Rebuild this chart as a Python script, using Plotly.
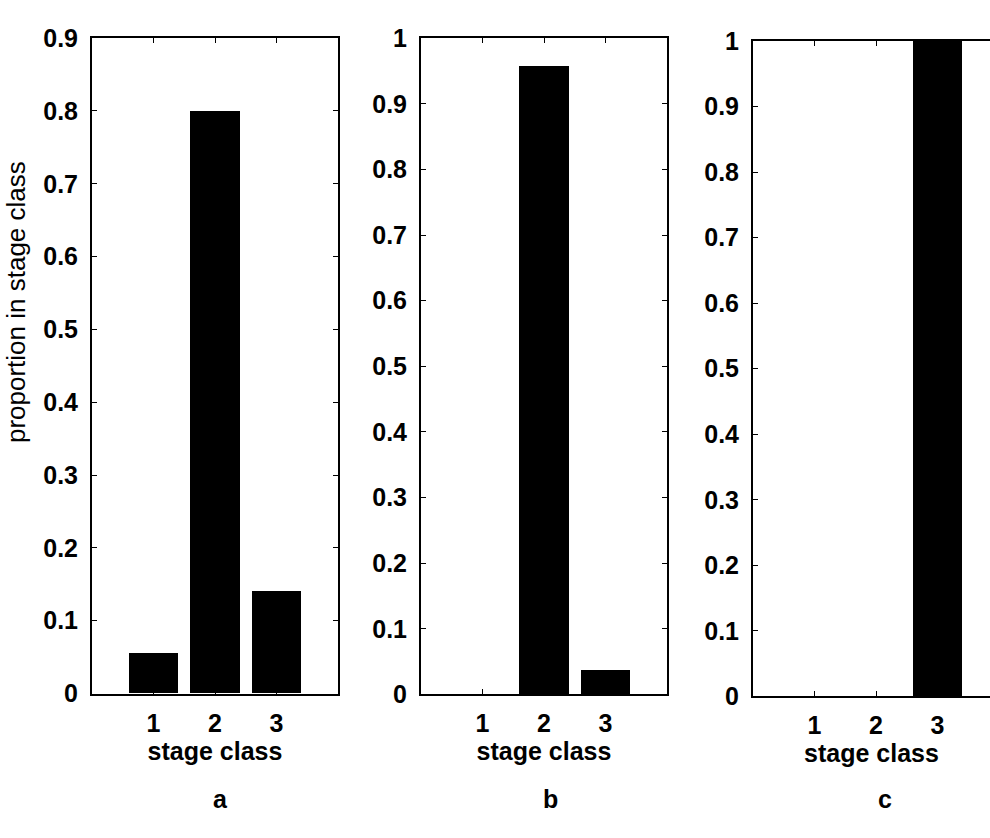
import plotly.graph_objects as go

# Proportion of individuals in each stage class for three cases
stage = [1, 2, 3]
prop_a = [0.055, 0.80, 0.14]
prop_b = [0.0, 0.957, 0.037]
prop_c = [0.0, 0.0, 1.0]
panel_labels = ["a", "b", "c"]

yticks_a = [0, 0.1, 0.2, 0.3, 0.4, 0.5, 0.6, 0.7, 0.8, 0.9]
yticks_bc = [0, 0.1, 0.2, 0.3, 0.4, 0.5, 0.6, 0.7, 0.8, 0.9, 1.0]
ytext_a = ["0", "0.1", "0.2", "0.3", "0.4", "0.5", "0.6", "0.7", "0.8", "0.9"]
ytext_bc = ["0", "0.1", "0.2", "0.3", "0.4", "0.5", "0.6", "0.7", "0.8", "0.9", "1"]

W, H = 990, 838
FONT = "Liberation Sans, Arial, sans-serif"
tick_font = dict(family=FONT, size=25, color="black", weight="bold")

fig = go.Figure()
series = [prop_a, prop_b, prop_c]
for i, vals in enumerate(series):
    sfx = "" if i == 0 else str(i + 1)
    fig.add_trace(go.Bar(
        x=stage, y=vals, width=0.8,
        marker=dict(color="black", line=dict(width=0)),
        xaxis="x" + sfx, yaxis="y" + sfx, showlegend=False,
    ))

# pixel geometry of each panel: (left, right, top, bottom)
boxes = [(92, 338, 25, 703), (421, 667, 25, 704), (753, 999, 28, 706)]
label_x = [220, 550, 885]

layout = dict(
    width=W, height=H, margin=dict(l=0, r=0, t=0, b=0),
    paper_bgcolor="white", plot_bgcolor="white", bargap=0,
)
annotations = []
for i, (l, r, t, b) in enumerate(boxes):
    sfx = "" if i == 0 else str(i + 1)
    visible_r = min(r, W)
    x_hi = 4 * (visible_r - l) / (r - l)
    xdom = [l / W, visible_r / W]
    ydom = [1 - b / H, 1 - t / H]
    last = i == 2
    layout["xaxis" + sfx] = dict(
        domain=xdom, range=[0, x_hi], anchor="y" + sfx,
        tickvals=stage, ticktext=[str(s) for s in stage],
        ticks="inside", ticklen=5, tickcolor="black",
        showline=True, linecolor="black", linewidth=2, mirror="ticks",
        showgrid=False, zeroline=False, tickfont=tick_font,
        ticklabelstandoff=6,
        title=dict(text="stage class", font=tick_font, standoff=6),
    )
    layout["yaxis" + sfx] = dict(
        domain=ydom, range=[0, 0.9 if i == 0 else 1.0], anchor="x" + sfx,
        tickvals=yticks_a if i == 0 else yticks_bc,
        ticktext=ytext_a if i == 0 else ytext_bc,
        ticks="inside", ticklen=5, tickcolor="black",
        showline=True, linecolor="black", linewidth=2,
        mirror=False if last else "ticks",
        showgrid=False, zeroline=False, tickfont=tick_font,
        ticklabelstandoff=7,
    )
    annotations.append(dict(
        text=panel_labels[i], x=label_x[i] / W, y=1 - 812 / H,
        xref="paper", yref="paper", xanchor="center", yanchor="middle",
        showarrow=False,
        font=dict(family=FONT, size=25, color="black", weight="bold"),
    ))

annotations.append(dict(
    text="proportion in stage class", textangle=-90,
    x=16 / W, y=1 - 298 / H, xref="paper", yref="paper",
    xanchor="center", yanchor="middle", showarrow=False,
    font=dict(family=FONT, size=26, color="black"),
))
layout["annotations"] = annotations
fig.update_layout(**layout)
fig.write_html("out.html")
